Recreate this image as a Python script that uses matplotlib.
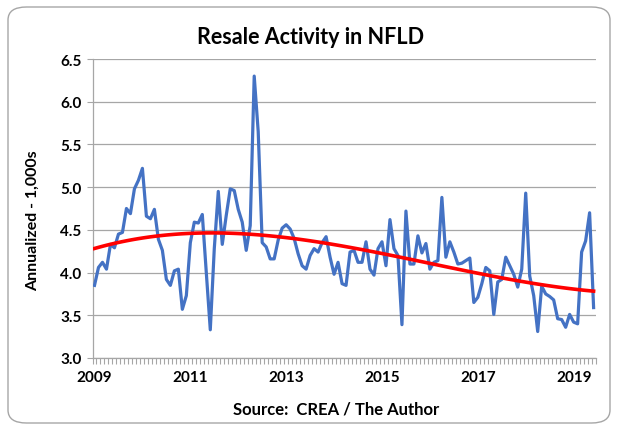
import numpy as np
import matplotlib
matplotlib.use("Agg")
import matplotlib.pyplot as plt
from matplotlib.patches import FancyBboxPatch

# Monthly annualized resales (thousands), Jan 2009 - Jun 2019
resales = [
    3.85, 4.06, 4.12, 4.04, 4.33, 4.29, 4.45, 4.47, 4.75, 4.69,
    4.98, 5.08, 5.22, 4.66, 4.63, 4.74, 4.39, 4.26, 3.92, 3.85,
    4.02, 4.04, 3.57, 3.73, 4.35, 4.59, 4.58, 4.68, 4.00, 3.33,
    4.28, 4.95, 4.33, 4.67, 4.98, 4.96, 4.74, 4.59, 4.26, 4.55,
    6.30, 5.65, 4.35, 4.30, 4.16, 4.16, 4.38, 4.52, 4.56, 4.51,
    4.40, 4.22, 4.08, 4.04, 4.20, 4.28, 4.24, 4.35, 4.42, 4.18,
    3.98, 4.12, 3.87, 3.85, 4.24, 4.26, 4.12, 4.12, 4.36, 4.04,
    3.97, 4.28, 4.36, 4.08, 4.62, 4.28, 4.20, 3.39, 4.72, 4.10,
    4.10, 4.43, 4.23, 4.34, 4.04, 4.12, 4.14, 4.88, 4.18, 4.36,
    4.24, 4.10, 4.11, 4.14, 4.17, 3.65, 3.71, 3.87, 4.06, 4.02,
    3.51, 3.89, 3.92, 4.18, 4.08, 3.98, 3.83, 4.04, 4.93, 3.96,
    3.73, 3.31, 3.84, 3.75, 3.72, 3.68, 3.46, 3.45, 3.36, 3.51,
    3.42, 3.40, 4.24, 4.37, 4.70, 3.59,
]
year_labels = ["2009", "2011", "2013", "2015", "2017", "2019"]
y_ticks = [3.0, 3.5, 4.0, 4.5, 5.0, 5.5, 6.0, 6.5]

FONT = "Lato"
W, H = 618, 431
fig = plt.figure(figsize=(W / 100, H / 100), dpi=100)

# rounded chart border
border = FancyBboxPatch((8 / W, 7 / H), (W - 16) / W, (H - 15) / H,
                        boxstyle="round,pad=0,rounding_size=0.03",
                        transform=fig.transFigure, facecolor="white",
                        edgecolor="#a6a6a6", linewidth=1.0, zorder=-5)
fig.patches.append(border)

ax = fig.add_axes([92.5 / W, 1 - 359 / H, (595.6 - 92.5) / W, (359 - 60) / H])
ax.set_zorder(2)
ax.set_facecolor("none")

n = len(resales)
x = np.arange(n)
ax.plot(x, resales, color="#4472C4", linewidth=2.3, solid_joinstyle="round", zorder=3)

# polynomial trendline (Excel style)
coef = np.polyfit(x, resales, 3)
ax.plot(x, np.polyval(coef, x), color="#FF0000", linewidth=2.6, zorder=4)

ax.set_xlim(-0.5, n - 0.5)
ax.set_ylim(3.0, 6.5)
ax.set_yticks(y_ticks)
ax.set_yticklabels([f"{v:.1f}" for v in y_ticks], fontfamily=FONT,
                   fontweight="bold", fontsize=11)
ax.grid(axis="y", color="#a6a6a6", linewidth=0.9)
ax.set_axisbelow(True)

# month tick marks between categories
ax.set_xticks(np.arange(-0.5, n, 1.0), minor=True)
ax.set_xticks(np.arange(0, n, 24))
ax.set_xticklabels(year_labels, fontfamily=FONT, fontweight="bold", fontsize=11)
ax.tick_params(axis="x", which="major", length=0, pad=9)
ax.tick_params(axis="x", which="minor", length=4, color="#a6a6a6", width=0.8)
ax.tick_params(axis="y", length=4, color="#a6a6a6", width=0.8, pad=4)

for s in ["top", "right"]:
    ax.spines[s].set_visible(False)
for s in ["left", "bottom"]:
    ax.spines[s].set_color("#a6a6a6")
    ax.spines[s].set_linewidth(0.9)

fig.text(311 / W, 1 - 38 / H, "Resale Activity in NFLD", ha="center", va="center",
         fontfamily=FONT, fontweight="bold", fontsize=15.5)
fig.text(33 / W, 1 - 221 / H, "Annualized - 1,000s", ha="center", va="center",
         rotation=90, fontfamily=FONT, fontweight="bold", fontsize=11.5)
fig.text(336 / W, 1 - 410 / H, "Source:  CREA / The Author", ha="center", va="center",
         fontfamily=FONT, fontweight="bold", fontsize=12)

fig.savefig("out.png", dpi=100)
